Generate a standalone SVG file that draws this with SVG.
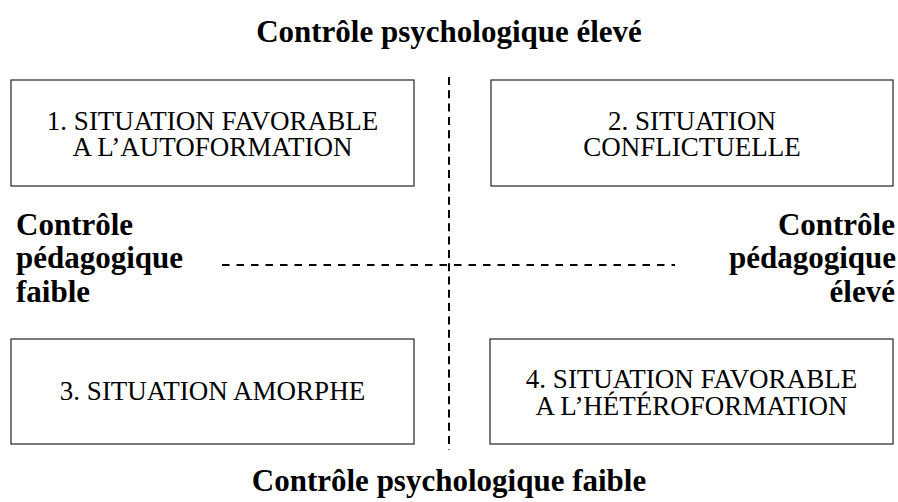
<svg xmlns="http://www.w3.org/2000/svg" width="898" height="502" viewBox="0 0 898 502">
<style>
.box{fill:#fff;stroke:#222;stroke-width:1.2}
.bt{font-family:"Liberation Serif","Times New Roman",serif;font-size:27px;fill:#000;text-anchor:middle}
.lab{font-family:"Liberation Serif","Times New Roman",serif;font-size:31px;font-weight:bold;fill:#000}
.dash{stroke:#000;stroke-width:2;fill:none}
</style>
<rect width="898" height="502" fill="#fff"/>
<g id="connectors">
<line class="dash" x1="449" y1="77" x2="449" y2="450" stroke-dasharray="8 5.3"/>
<line class="dash" x1="222" y1="265" x2="675" y2="265" stroke-dasharray="7.5 7"/>
</g>
<g id="title-top"><text class="lab" x="449" y="42" text-anchor="middle">Contrôle psychologique élevé</text></g>
<g id="title-bottom"><text class="lab" x="449" y="491" text-anchor="middle">Contrôle psychologique faible</text></g>
<g id="label-left"><text class="lab" x="16"><tspan x="16" y="235">Contrôle</tspan><tspan x="16" y="268">pédagogique</tspan><tspan x="16" y="302">faible</tspan></text></g>
<g id="label-right"><text class="lab" text-anchor="end"><tspan x="895" y="235">Contrôle</tspan><tspan x="896" y="268">pédagogique</tspan><tspan x="895" y="302">élevé</tspan></text></g>
<g id="box1"><rect class="box" x="11" y="80" width="403" height="106"/><text class="bt"><tspan x="212.5" y="129.5">1. SITUATION FAVORABLE</tspan><tspan x="212.5" y="156">A L’AUTOFORMATION</tspan></text></g>
<g id="box2"><rect class="box" x="491" y="80" width="402" height="106"/><text class="bt"><tspan x="692" y="129.5">2. SITUATION</tspan><tspan x="692" y="156">CONFLICTUELLE</tspan></text></g>
<g id="box3"><rect class="box" x="11" y="339" width="403" height="105"/><text class="bt"><tspan x="212.5" y="400">3. SITUATION AMORPHE</tspan></text></g>
<g id="box4"><rect class="box" x="490" y="339" width="403" height="105"/><text class="bt"><tspan x="691.5" y="388">4. SITUATION FAVORABLE</tspan><tspan x="691.5" y="414.5">A L’HÉTÉROFORMATION</tspan></text></g>
</svg>
